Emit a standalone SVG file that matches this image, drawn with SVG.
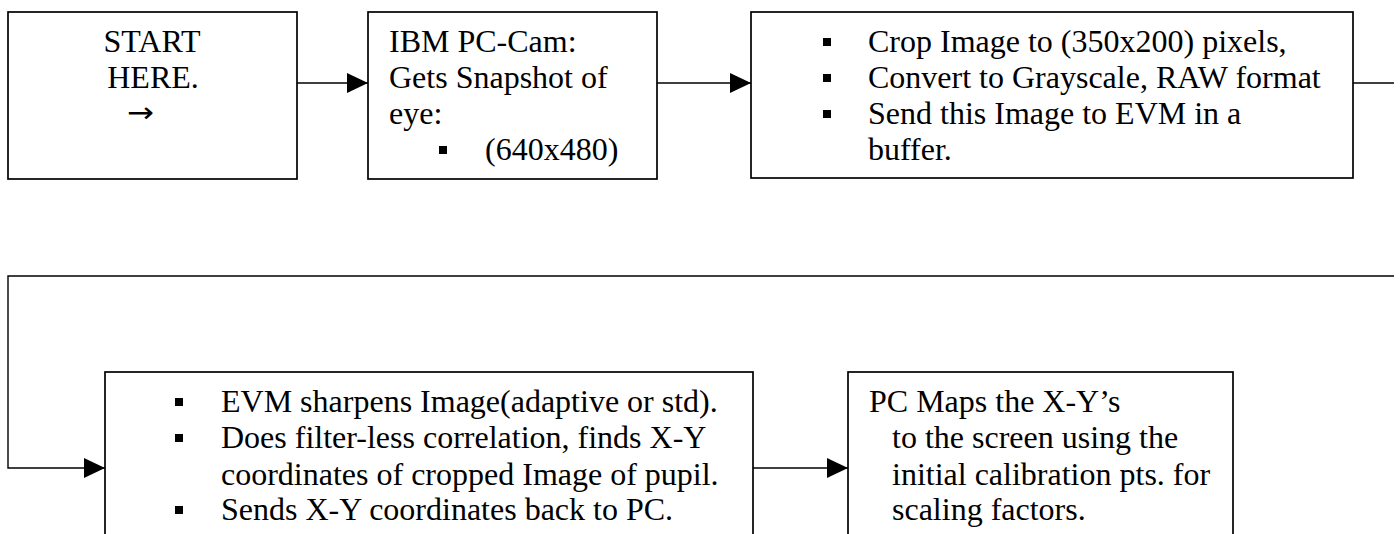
<svg xmlns="http://www.w3.org/2000/svg" xmlns:xlink="http://www.w3.org/1999/xlink" width="1400" height="534" viewBox="0 0 1400 534">
  <style>
    .box { fill: #ffffff; stroke: #000000; stroke-width: 1.7; }
    .wire { fill: none; stroke: #000000; stroke-width: 1.4; }
    .txt { font-family: "Liberation Serif", "Times New Roman", serif; font-size: 32px; fill: #000000; }
    .sym { font-family: "DejaVu Sans", sans-serif; font-size: 28px; fill: #000000; }
  </style>
  <defs>
    <marker id="arrow" viewBox="0 0 21 20" refX="21" refY="10" markerWidth="21" markerHeight="20" markerUnits="userSpaceOnUse" orient="auto">
      <path d="M0,0 L21,10 L0,20 Z" fill="#000000"/>
    </marker>
    <rect id="bullet" x="0" y="-14" width="8" height="8" fill="#000000"/>
  </defs>

  <rect width="1400" height="534" fill="#ffffff"/>

  <!-- connectors -->
  <g id="connectors">
    <path class="wire" d="M297,83 H368" marker-end="url(#arrow)"/>
    <path class="wire" d="M657,83 H751" marker-end="url(#arrow)"/>
    <path class="wire" d="M1353,83 H1394"/>
    <path class="wire" d="M1394,276 H8 V468 H105" marker-end="url(#arrow)"/>
    <path class="wire" d="M753,468 H848" marker-end="url(#arrow)"/>
  </g>

  <!-- start -->
  <g id="start">
    <rect class="box" x="8" y="12" width="289" height="167"/>
    <text class="txt" x="152" y="52" text-anchor="middle">START</text>
    <text class="txt" x="153" y="88" text-anchor="middle">HERE.</text>
    <text class="sym" x="127" y="122" textLength="27" lengthAdjust="spacingAndGlyphs">→</text>
  </g>

  <!-- camera snapshot -->
  <g id="snapshot">
    <rect class="box" x="368" y="12" width="289" height="167"/>
    <text class="txt" x="389" y="52">IBM PC-Cam:</text>
    <text class="txt" x="389" y="88">Gets Snapshot of</text>
    <text class="txt" x="389" y="124">eye:</text>
    <use xlink:href="#bullet" x="439" y="160"/>
    <text class="txt" x="485" y="160">(640x480)</text>
  </g>

  <!-- crop and convert -->
  <g id="crop">
    <rect class="box" x="751" y="12" width="602" height="166"/>
    <use xlink:href="#bullet" x="823" y="52"/>
    <text class="txt" x="868" y="52">Crop Image to (350x200) pixels,</text>
    <use xlink:href="#bullet" x="823" y="88"/>
    <text class="txt" x="868" y="88">Convert to Grayscale, RAW format</text>
    <use xlink:href="#bullet" x="823" y="124"/>
    <text class="txt" x="868" y="124">Send this Image to EVM in a</text>
    <text class="txt" x="868" y="160">buffer.</text>
  </g>

  <!-- EVM processing -->
  <g id="evm">
    <rect class="box" x="105" y="372" width="648" height="180"/>
    <use xlink:href="#bullet" x="175" y="412"/>
    <text class="txt" x="221" y="412">EVM sharpens Image(adaptive or std).</text>
    <use xlink:href="#bullet" x="175" y="448"/>
    <text class="txt" x="221" y="448">Does filter-less correlation, finds X-Y</text>
    <text class="txt" x="221" y="485">coordinates of cropped Image of pupil.</text>
    <use xlink:href="#bullet" x="175" y="520"/>
    <text class="txt" x="221" y="520">Sends X-Y coordinates back to PC.</text>
  </g>

  <!-- screen mapping -->
  <g id="mapping">
    <rect class="box" x="848" y="372" width="385" height="180"/>
    <text class="txt" x="869" y="412">PC Maps the X-Y’s</text>
    <text class="txt" x="892" y="448">to the screen using the</text>
    <text class="txt" x="892" y="485">initial calibration pts. for</text>
    <text class="txt" x="892" y="520">scaling factors.</text>
  </g>
</svg>
